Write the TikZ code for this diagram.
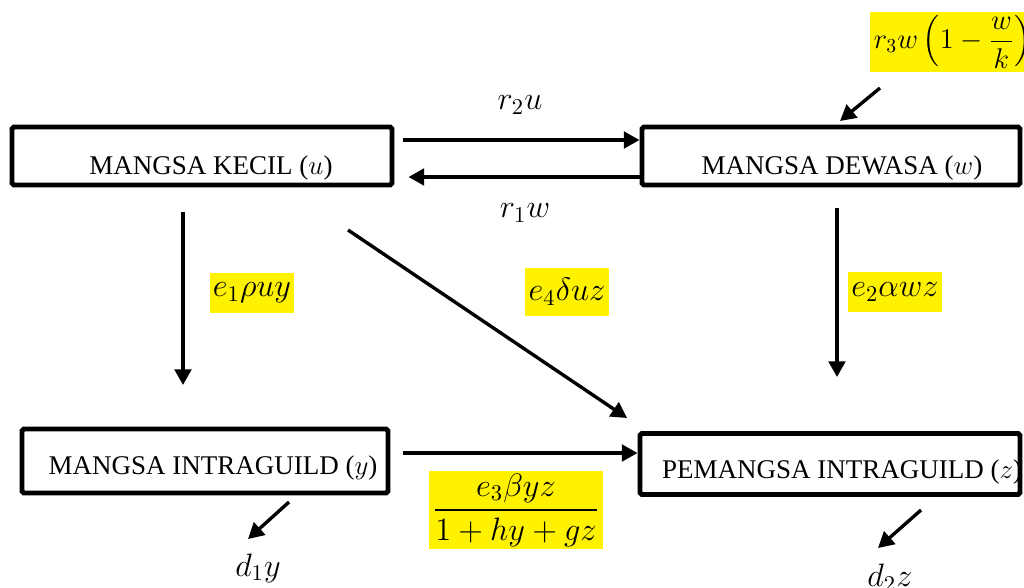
\documentclass[tikz,border=0pt]{standalone}
\usepackage{amsmath}
\usepackage{fontspec}
\setmainfont{Liberation Serif}
\usetikzlibrary{arrows.meta}

\tikzset{
  compartment/.style n args={2}{draw, line width=2.2pt, rounded corners=0.8pt,
    inner sep=0pt, minimum width=#1*0.4444pt, minimum height=#2*0.4444pt},
  boxtext/.style={inner sep=0pt, font=\fontsize{12}{14}\selectfont},
  rate/.style={inner sep=1pt, font=\Large},
  hl/.style={rate, fill=yellow, inner xsep=1.5pt, inner ysep=#1},
  hl/.default=4.5pt,
  flow/.style={line width=1.5pt, -{Triangle[length=7pt, width=7.4pt]}},
}

\begin{document}
\begin{tikzpicture}[x=0.4444pt, y=-0.4444pt]
  \useasboundingbox (0,0) rectangle (1024,587);

  % compartments
  \node[compartment={380}{58}] (u) at (202,156) {};
  \node[compartment={378}{58}] (w) at (831,156) {};
  \node[compartment={366}{64}] (y) at (205,461) {};
  \node[compartment={380}{61}] (z) at (830,464) {};

  \node[boxtext] (ut) at (211,168) {MANGSA KECIL ($u$)};
  \node[boxtext] (wt) at (842,168) {MANGSA DEWASA ($w$)};
  \node[boxtext] (yt) at (213,468) {MANGSA INTRAGUILD ($y$)};
  \node[boxtext] (zt) at (842,472) {PEMANGSA INTRAGUILD ($z$)};

  % free ends of the inflow and outflow arrows
  \coordinate (growS) at (880,88);
  \coordinate (growE) at (840,121);
  \coordinate (d1S) at (289,502);
  \coordinate (d1E) at (248,539);
  \coordinate (d2S) at (921,510);
  \coordinate (d2E) at (878,548);

  % transitions between compartments
  \draw[flow] (u.east |- 0,140) ++(9,0) -- (w.west |- 0,140);
  \draw[flow] (w.west |- 0,177) -- ([xshift=14*0.4444pt]u.east |- 0,177);
  \draw[flow] (183,212) -- (183,385);
  \draw[flow] (348,230) -- (627,418);
  \draw[flow] (837,208) -- (837,377);
  \draw[flow] (y.east |- 0,453) ++(13,0) -- (z.west |- 0,453);
  \draw[flow] (growS) -- (growE);
  \draw[flow] (d1S) -- (d1E);
  \draw[flow] (d2S) -- (d2E);

  % rates
  \node[rate] (r2) at (520,105) {$r_2u$};
  \node[rate] (r1) at (525,213) {$r_1w$};
  \node[hl] (l1) at (252,293) {$e_1\rho u y$};
  \node[hl] (l4) at (567,292) {$e_4\delta u z$};
  \node[hl] (l2) at (895,292) {$e_2\alpha w z$};
  \node[hl=1pt] (l3) at (516,510) {$\dfrac{e_3\beta y z}{1+hy+gz}$};
  \node[hl=1.5pt, anchor=west] (l5) at (870,42)
    {\scalebox{0.88}{$r_3w\left(1-\dfrac{w}{k}\right)$}};
  \node[rate] (dy) at (258,568) {$d_1y$};
  \node[rate] (dz) at (890,578) {$d_2z$};
\end{tikzpicture}
\end{document}
